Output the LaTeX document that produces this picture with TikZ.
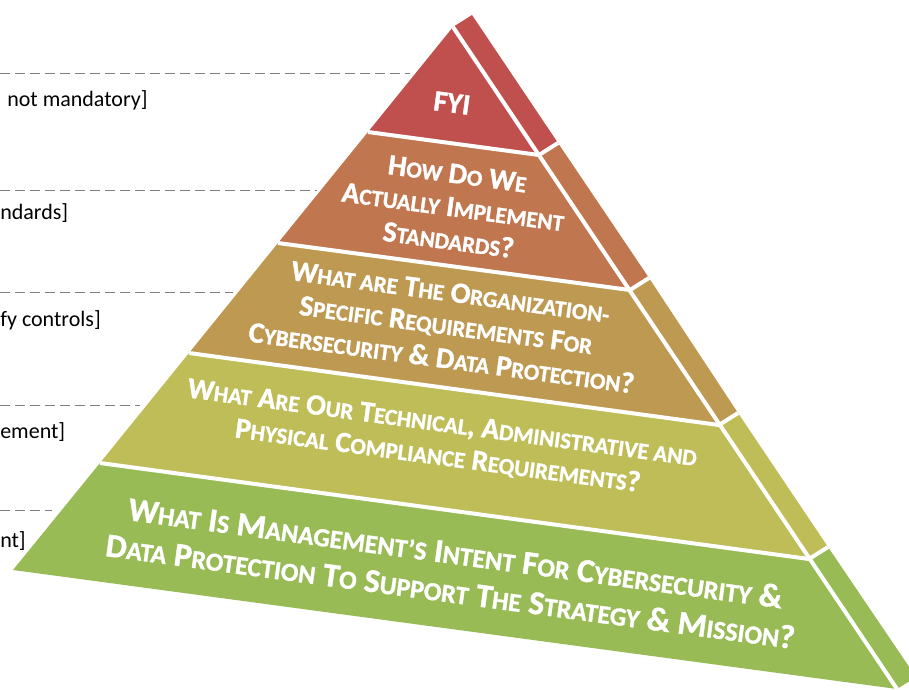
\documentclass[tikz,border=0pt]{standalone}
\usepackage{fontspec}
\setmainfont{Carlito}[BoldFeatures={FakeBold=1.2}]
\usepackage{graphicx}
\usetikzlibrary{calc}

\definecolor{fyi}{HTML}{C0504D}
\definecolor{how}{HTML}{C0764E}
\definecolor{org}{HTML}{BE9952}
\definecolor{tech}{HTML}{BEBD58}
\definecolor{mgmt}{HTML}{99BB56}

% lower-case letters as small capitals
\newcommand\sm[1]{\scalebox{.78}{#1}}

\begin{document}
\begin{tikzpicture}[x=0.75pt,y=-0.75pt,
            sep/.style={draw=white,line width=3pt},
            guide/.style={draw=black!50,line width=0.75pt,dash pattern=on 7.5pt off 3.75pt},
            lvl/.style={font=\fontsize{16.5}{18}\selectfont,anchor=west,inner sep=0pt},
            ask/.style={text=white,font=\bfseries\fontsize{22}{25}\selectfont,
                align=center,rotate=-7.7,inner sep=0pt}]
            \useasboundingbox (0,0) rectangle (909,689);
            \clip (0,0) rectangle (909,689);

            % front face, left and right ends of each band
            \coordinate (L0) at (453,27);  \coordinate (R0) at (453,27);
            \coordinate (L1) at (368,132); \coordinate (R1) at (539,155);
            \coordinate (L2) at (278,243); \coordinate (R2) at (630,290);
            \coordinate (L3) at (189,353); \coordinate (R3) at (719,425);
            \coordinate (L4) at (100,463); \coordinate (R4) at (809,559);
            \coordinate (L5) at (13,570);  \coordinate (R5) at (897,689);
            % side face
            \foreach \i in {0,...,5}
                \coordinate (S\i) at ($(R\i)+(19,-12)$);

            \foreach \i/\j/\c in {0/1/fyi,1/2/how,2/3/org,3/4/tech,4/5/mgmt} {
                \fill[\c] (L\i) -- (R\i) -- (R\j) -- (L\j) -- cycle;
                \fill[\c] (R\i) -- (S\i) -- (S\j) -- (R\j) -- cycle;
            }
            \foreach \i in {1,...,4}
                \draw[sep] (L\i) -- (R\i) -- (S\i);
            \draw[sep] (R0) -- (R5);

            \node[ask] (fyi) at (452,103) {FYI};
            \node[ask] (how) at (453,207) {H\sm{OW} D\sm{O} W\sm{E}\\
                A\sm{CTUALLY} I\sm{MPLEMENT}\\S\sm{TANDARDS}?};
            \node[ask] (org) at (446,325) {W\sm{HAT ARE} T\sm{HE} O\sm{RGANIZATION-}\\
                S\sm{PECIFIC} R\sm{EQUIREMENTS} F\sm{OR}\\
                C\sm{YBERSECURITY} \& D\sm{ATA} P\sm{ROTECTION}?};
            \node[ask] (tech) at (440,440) {W\sm{HAT} A\sm{RE} O\sm{UR} T\sm{ECHNICAL}, A\sm{DMINISTRATIVE AND}\\
                P\sm{HYSICAL} C\sm{OMPLIANCE} R\sm{EQUIREMENTS}?};
            \node[ask,font=\bfseries\fontsize{25}{29}\selectfont] (mgmt) at (453,572)
                {W\sm{HAT} I\sm{S} M\sm{ANAGEMENT’S} I\sm{NTENT} F\sm{OR} C\sm{YBERSECURITY} \&\\
                D\sm{ATA} P\sm{ROTECTION} T\sm{O} S\sm{UPPORT} T\sm{HE} S\sm{TRATEGY} \& M\sm{ISSION}?};

            % levels on the left
            \foreach \y/\x [count=\k] in {73/410,190/317,292/233,405/140,510/52}
                \draw[guide] (0,\y) coordinate (g\k) -- (\x,\y) coordinate (h\k);
            \node[lvl] (lvl1) at (7,100) {not mandatory]};
            \node[lvl] (lvl2) at (0,213) {ndards]};
            \node[lvl] (lvl3) at (0,320) {fy controls]};
            \node[lvl] (lvl4) at (0,432) {ement]};
            \node[lvl] (lvl5) at (0,541) {nt]};

        \end{tikzpicture}
\end{document}
